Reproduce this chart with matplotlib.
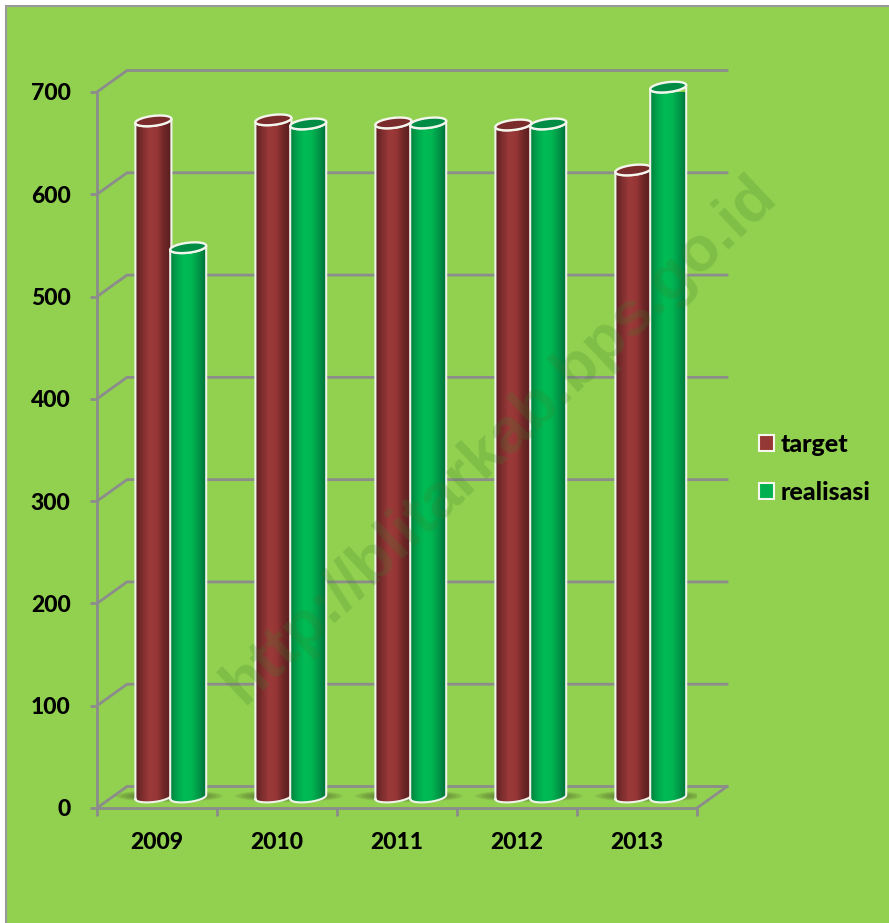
import numpy as np
import matplotlib
matplotlib.use("Agg")
import matplotlib.pyplot as plt
from matplotlib.patches import Ellipse, Patch, PathPatch, Rectangle
from matplotlib.path import Path
from matplotlib.colors import LinearSegmentedColormap

years = ['2009', '2010', '2011', '2012', '2013']
target = [661, 662, 659, 657, 613]
realisasi = [537, 658, 659, 658, 694]
yticks = [0, 100, 200, 300, 400, 500, 600, 700]

BG = '#92d050'
GRID = '#8c8c8c'
FONT = 'Lato'

plt.rcParams['font.family'] = FONT
plt.rcParams['font.weight'] = 'black'

fig = plt.figure(figsize=(8.89, 9.23), dpi=100, facecolor='white')
W, H = 889, 923

# page background with the grey frame on the left and top
fig.patches.append(Rectangle((6 / W, -0.01), 1, 1 - 6 / H + 0.01, transform=fig.transFigure,
                             facecolor=BG, edgecolor='#999999', lw=1.5, zorder=-1))

# front plane of the fake 3d box, in pixels
ax = fig.add_axes([97 / W, 1 - 808 / H, 600 / W, 716 / H])
ax.set_xlim(0, 5)
ax.set_ylim(0, 700)
ax.patch.set_alpha(0)

PX = 5 / 600       # x data per pixel
PY = 700 / 716     # y data per pixel
DX, DY = 30 * PX, 21.5 * PY
BASE = 11 * PY
HALF = 18 * PX

# walls and floor
for v in yticks:
    ax.plot([0, DX, 5 + DX], [v, v + DY, v + DY], color=GRID, lw=2, clip_on=False, zorder=1,
            solid_joinstyle='miter')
ax.plot([5, 5 + DX], [0, DY], color=GRID, lw=2, clip_on=False, zorder=1)

for s in ['top', 'right']:
    ax.spines[s].set_visible(False)
for s in ['left', 'bottom']:
    ax.spines[s].set_color(GRID)
    ax.spines[s].set_linewidth(2)

ax.set_yticks(yticks)
ax.set_xticks(range(6))
ax.set_xticklabels([])
ax.set_xticks(np.arange(5) + 0.5, years, minor=True)
ax.tick_params(axis='y', length=5, width=2, color=GRID, pad=14, labelsize=16.5)
ax.tick_params(axis='x', which='major', length=6, width=2, color=GRID)
ax.tick_params(axis='x', which='minor', length=0, pad=17, labelsize=16.5)

red_cmap = LinearSegmentedColormap.from_list(
    'red', ['#5a1f20', '#7f2e2f', '#9c3a3a', '#953635', '#6e2727', '#571d1e'])
green_cmap = LinearSegmentedColormap.from_list(
    'green', ['#00803f', '#00a64d', '#00bc55', '#00b652', '#009848', '#007038'])
ramp = np.linspace(0, 1, 64).reshape(1, -1)


def ring(cx, cy, t):
    # tilted ellipse, 18 x 5 px with the right side lifted
    x = cx + HALF * np.cos(t)
    y = cy + (5 * np.sin(t) + 2 * np.cos(t)) * PY
    return x, y


def cylinder(cx, value, cmap, top_color, z):
    y0, y1 = BASE, value + BASE
    t = np.linspace(np.pi, 2 * np.pi, 40)
    bx, by = ring(cx, y0, t)
    tx, ty = ring(cx, y1, t[::-1])
    body_x = np.r_[bx, tx, bx[0]]
    body_y = np.r_[by, ty, by[0]]
    clip = PathPatch(Path(np.c_[body_x, body_y]), transform=ax.transData, facecolor='none',
                     edgecolor='none')
    ax.add_patch(clip)
    im = ax.imshow(ramp, extent=[cx - HALF, cx + HALF, 0, y1 + 6], cmap=cmap, aspect='auto',
                   zorder=z, interpolation='bilinear')
    im.set_clip_path(clip)
    ax.plot(body_x, body_y, color='#f0f3ea', lw=1.5, zorder=z + 0.1, clip_on=False)
    a = np.linspace(0, 2 * np.pi, 80)
    ex, ey = ring(cx, y1, a)
    ax.fill(ex, ey, facecolor=top_color, edgecolor='#f4f6ee', lw=1.7, zorder=z + 0.2, clip_on=False)


for i, (t_val, r_val) in enumerate(zip(target, realisasi)):
    # soft shadow on the floor
    for k in range(8):
        ax.add_patch(Ellipse((i + 0.6, 12 * PY), (108 - 7 * k) * PX, (12 - 1.1 * k) * PY,
                             facecolor='#3c4a20', edgecolor='none', alpha=0.1, zorder=2))
    cylinder(i + 0.47, t_val, red_cmap, '#7a2b2c', 3 + i)
    cylinder(i + 0.76, r_val, green_cmap, '#008c44', 3.5 + i)

ax.set_xlim(0, 5)
ax.set_ylim(0, 700)

handles = [Patch(facecolor='#953735', edgecolor='#f4f6ee', lw=1.5, label='target'),
           Patch(facecolor='#00b050', edgecolor='#f4f6ee', lw=1.5, label='realisasi')]
fig.legend(handles=handles, loc='center left', bbox_to_anchor=(759 / W, 1 - 468 / H), frameon=False,
           fontsize=18, handlelength=0.6, handleheight=0.6, handletextpad=0.28, labelspacing=1.0,
           borderpad=0, borderaxespad=0)

# watermark across the whole picture
fig.text(500 / W, 1 - 440 / H, 'http://blitarkab.bps.go.id', rotation=43.5, rotation_mode='anchor',
         ha='center', va='center', fontsize=45.5, fontweight='bold', family='Liberation Sans',
         color=(0.24, 0.5, 0.16), alpha=0.22, zorder=20)

fig.savefig('out.png', dpi=100, facecolor='white')
